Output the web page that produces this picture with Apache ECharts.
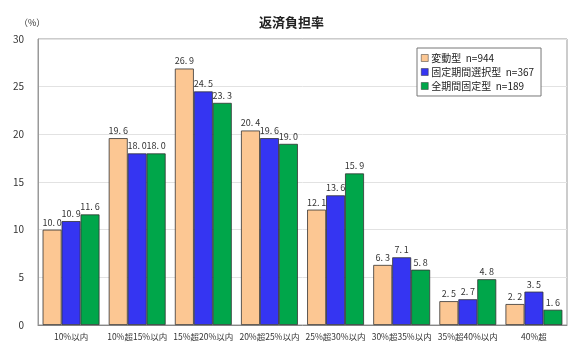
<!DOCTYPE html>
<html><head><meta charset="utf-8">
<script src="https://cdn.jsdelivr.net/npm/echarts@6/dist/echarts.min.js"></script>
<style>html,body{margin:0;padding:0;background:#fff}#c{width:583px;height:360px}</style>
</head><body><div id="c"></div>
<script>
const categories = ['10%以内','10%超15%以内','15%超20%以内','20%超25%以内','25%超30%以内','30%超35%以内','35%超40%以内','40%超'];
const seriesNames = ['変動型  n=944','固定期間選択型  n=367','全期間固定型  n=189'];
const hendo = [10.0, 19.6, 26.9, 20.4, 12.1, 6.3, 2.5, 2.2];
const koteiKikan = [10.9, 18.0, 24.5, 19.6, 13.6, 7.1, 2.7, 3.5];
const zenKikan = [11.6, 18.0, 23.3, 19.0, 15.9, 5.8, 4.8, 1.6];
const colors = ['#FCC793', '#3535F2', '#00A64A'];
const FONT = '"Noto Sans CJK JP", sans-serif';
const chart = echarts.init(document.getElementById('c'));
const mk = (name, data, color) => ({
  name, type: 'bar', data, barGap: '0%', barCategoryGap: '14%',
  itemStyle: { color, borderColor: '#333', borderWidth: 0.8 },
  label: { show: true, position: 'top', distance: 3, fontSize: 9, color: '#333', fontFamily: FONT,
    formatter: p => p.value.toFixed(1).replace('.', '.\u2009') }
});
chart.setOption({
  animation: false,
  textStyle: { fontFamily: FONT },
  title: [
    { text: '返済負担率', left: 'center', top: 11, textStyle: { fontSize: 13, fontWeight: 'bold', color: '#222', fontFamily: FONT } },
    { text: '（%）', left: 14, top: 13, textStyle: { fontSize: 9, fontWeight: 'normal', color: '#333', fontFamily: FONT } }
  ],
  legend: {
    orient: 'vertical', left: 417, top: 48, itemWidth: 7, itemHeight: 7, itemGap: 4,
    padding: [5, 7, 5, 4], borderColor: '#777', borderWidth: 1, backgroundColor: '#fff',
    icon: 'rect', textStyle: { fontSize: 10, color: '#222', fontFamily: FONT, padding: [0,0,0,-2] },
    itemStyle: { borderColor: '#333', borderWidth: 0.5 },
    data: seriesNames
  },
  grid: { left: 38, right: 16, top: 39, bottom: 35, show: true, borderColor: '#999', borderWidth: 1 },
  xAxis: {
    type: 'category', data: categories,
    axisLine: { lineStyle: { color: '#888' } }, axisTick: { show: false },
    axisLabel: { fontSize: 8.5, color: '#333', margin: 8, interval: 0, fontFamily: FONT }
  },
  yAxis: {
    type: 'value', min: 0, max: 30, interval: 5,
    axisLine: { show: true, lineStyle: { color: '#999' } },
    splitLine: { lineStyle: { color: '#e2e2e2' } },
    axisLabel: { fontSize: 10, color: '#333', margin: 14, fontFamily: FONT }
  },
  series: [
    mk(seriesNames[0], hendo, colors[0]),
    mk(seriesNames[1], koteiKikan, colors[1]),
    mk(seriesNames[2], zenKikan, colors[2])
  ]
});
</script></body></html>
